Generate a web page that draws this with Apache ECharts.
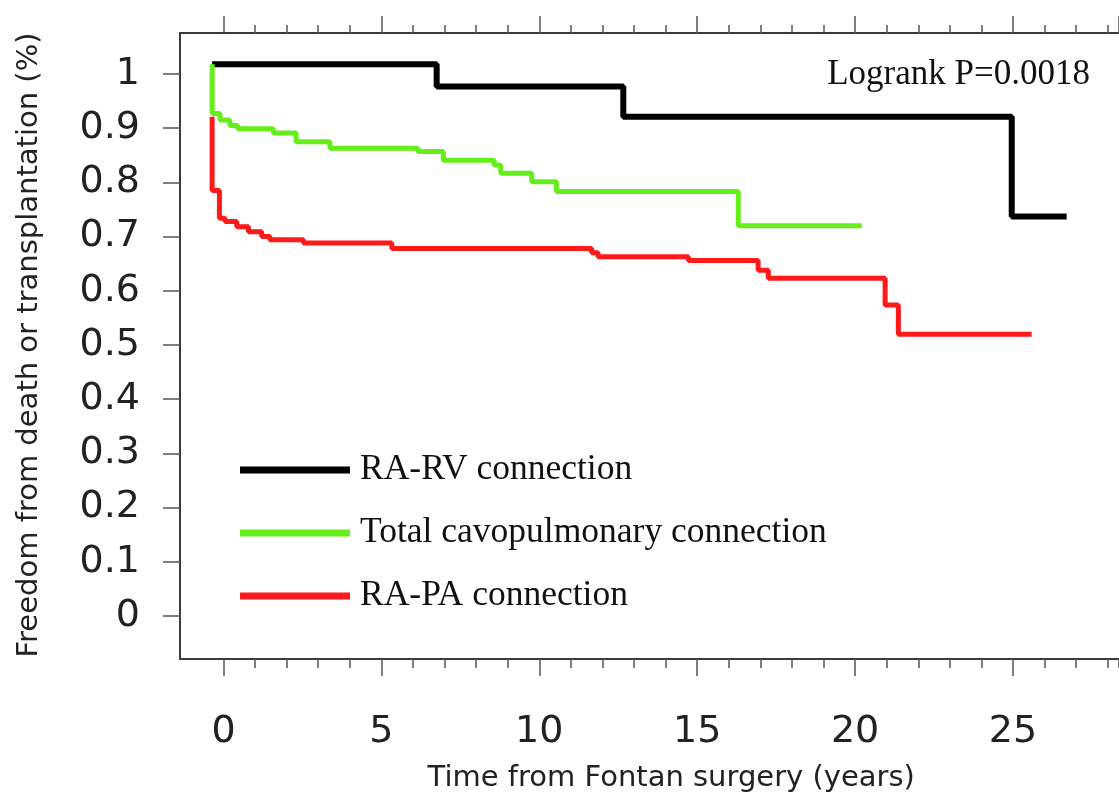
<!DOCTYPE html>
<html>
<head>
<meta charset="utf-8">
<script src="https://cdn.jsdelivr.net/npm/echarts@6/dist/echarts.min.js"></script>
<style>html,body{margin:0;padding:0;background:#fff}#c{width:1119px;height:810px}</style>
</head>
<body>
<div id="c"></div>
<script>
// ---- data ----
const seriesNames = ['RA-RV connection', 'Total cavopulmonary connection', 'RA-PA connection'];
const rarvTimes = [-0.36, 6.75, 12.66, 24.96, 26.7];
const rarvSurv  = [1.018, 0.977, 0.921, 0.737, 0.737];
const tcpcTimes = [-0.36, -0.36, -0.11, 0.2, 0.45, 1.58, 2.3, 3.37, 6.15, 6.96, 8.57, 8.78, 9.76, 10.54, 16.3, 20.21];
const tcpcSurv  = [1.018, 0.927, 0.915, 0.905, 0.899, 0.891, 0.875, 0.863, 0.857, 0.841, 0.832, 0.817, 0.801, 0.783, 0.720, 0.720];
const rapaTimes = [-0.36, -0.36, -0.13, 0.05, 0.42, 0.79, 1.21, 1.47, 2.53, 5.33, 11.66, 11.86, 14.72, 16.93, 17.25, 20.95, 21.37, 25.59];
const rapaSurv  = [0.921, 0.785, 0.734, 0.728, 0.718, 0.709, 0.700, 0.694, 0.688, 0.678, 0.670, 0.663, 0.656, 0.638, 0.623, 0.574, 0.520, 0.520];
const annotation = 'Logrank P=0.0018';
const xTitle = 'Time from Fontan surgery (years)';
const yTitle = 'Freedom from death or transplantation (%)';

// ---- layout ----
const W = 1119, H = 810;
const X0 = 223.5, PX_YR = 31.58;   // pixel of year 0, pixels per year
const Y0 = 616, PX_UNIT = 542;     // pixel of value 0, pixels per 1.0
const BOX_L = 180, BOX_T = 33, BOX_B = 659;
const xMinA = (BOX_L - X0) / PX_YR, xMax = (W - X0) / PX_YR;
const yMinA = (Y0 - BOX_B) / PX_UNIT, yMaxA = (Y0 - BOX_T) / PX_UNIT;

const zip = (t, s) => t.map((v, i) => [v, s[i]]);
const sans = 'DejaVu Sans', serif = 'Liberation Serif';
const tickColor = '#555', lineColor = '#3a3a3a';

const noAxisBits = { axisTick: { show: false }, axisLabel: { show: false }, splitLine: { show: false } };
const boxLine = { show: true, onZero: false, lineStyle: { color: lineColor, width: 2 } };

const tickAxis = (pos, interval, len, extra) => Object.assign({
  type: 'value', gridIndex: 1, position: pos, offset: pos === 'top' ? (Y0 - PX_UNIT - BOX_T) : (BOX_B - Y0),
  min: 0, max: xMax, interval: interval,
  axisLine: { show: false, onZero: false },
  axisTick: { show: true, length: len, lineStyle: { color: tickColor, width: 1.5 } },
  axisLabel: { show: false }, splitLine: { show: false }
}, extra || {});

const option = {
  animation: false,
  backgroundColor: '#fff',
  grid: [
    { left: BOX_L, right: 0, top: BOX_T, bottom: H - BOX_B },
    { left: X0, right: 0, top: Y0 - PX_UNIT, bottom: H - Y0 }
  ],
  xAxis: [
    Object.assign({ type: 'value', gridIndex: 0, position: 'bottom', min: xMinA, max: xMax, axisLine: boxLine }, noAxisBits),
    Object.assign({ type: 'value', gridIndex: 0, position: 'top', min: xMinA, max: xMax, axisLine: boxLine }, noAxisBits),
    tickAxis('bottom', 1, 9),
    tickAxis('bottom', 5, 17, {
      axisLabel: { show: true, margin: 54, fontSize: 38, fontFamily: sans, color: '#222', showMaxLabel: false },
      name: xTitle, nameLocation: 'middle', nameGap: 105,
      nameTextStyle: { fontSize: 29, fontFamily: sans, color: '#222' }
    }),
    tickAxis('top', 1, 8),
    tickAxis('top', 5, 17)
  ],
  yAxis: [
    Object.assign({ type: 'value', gridIndex: 0, position: 'left', min: yMinA, max: yMaxA, axisLine: boxLine }, noAxisBits),
    {
      type: 'value', gridIndex: 1, position: 'left', offset: X0 - BOX_L,
      min: 0, max: 1, interval: 0.1,
      axisLine: { show: false, onZero: false },
      axisTick: { show: true, length: 17, lineStyle: { color: tickColor, width: 1.5 } },
      axisLabel: { show: true, margin: 40, fontSize: 38, fontFamily: sans, color: '#222' },
      splitLine: { show: false },
      name: yTitle, nameLocation: 'middle', nameGap: 136, nameRotate: 90,
      nameTextStyle: { fontSize: 29, fontFamily: sans, color: '#222' }
    }
  ],
  legend: {
    data: seriesNames,
    orient: 'vertical', left: 240, top: 450, padding: 0,
    icon: 'rect', itemWidth: 110, itemHeight: 7, itemGap: 23,
    textStyle: { fontSize: 35.5, fontFamily: serif, color: '#111', lineHeight: 40, padding: [0, 0, 0, 5] },
    selectedMode: false
  },
  graphic: [
    { type: 'text', style: { text: annotation, x: 1090, y: 75, align: 'right', verticalAlign: 'middle',
      font: '35px "Liberation Serif"', fill: '#111' } }
  ],
  series: [
    { name: seriesNames[0], type: 'line', step: 'end', showSymbol: false, symbol: 'none',
      xAxisIndex: 0, yAxisIndex: 0, data: zip(rarvTimes, rarvSurv),
      itemStyle: { color: '#000' }, lineStyle: { color: '#000', width: 6 } },
    { name: seriesNames[2], type: 'line', step: 'end', showSymbol: false, symbol: 'none',
      xAxisIndex: 0, yAxisIndex: 0, data: zip(rapaTimes, rapaSurv),
      itemStyle: { color: '#ff1a1a' }, lineStyle: { color: '#ff1a1a', width: 5 } },
    { name: seriesNames[1], type: 'line', step: 'end', showSymbol: false, symbol: 'none',
      xAxisIndex: 0, yAxisIndex: 0, data: zip(tcpcTimes, tcpcSurv),
      itemStyle: { color: '#66ee1a' }, lineStyle: { color: '#66ee1a', width: 5 } }
  ]
};

const chart = echarts.init(document.getElementById('c'), null, { renderer: 'canvas' });
chart.setOption(option);
</script>
</body>
</html>
